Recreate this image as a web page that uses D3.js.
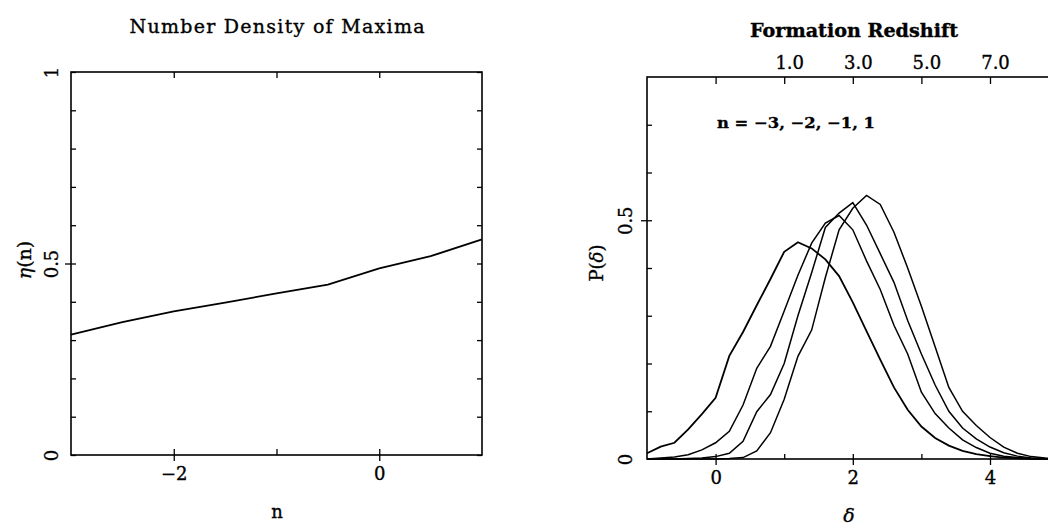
<!DOCTYPE html>
<html>
<head>
<meta charset="utf-8">
<script src="https://cdn.jsdelivr.net/npm/d3@7/dist/d3.min.js"></script>
<style>
body { margin: 0; background: #fff; }
text { font-family: "DejaVu Serif", serif; fill: #000; stroke: #000; stroke-width: 0.35; }
.tick line { stroke: #000; stroke-width: 1.3; }
</style>
</head>
<body>
<script>
// left panel: number density of maxima vs spectral index n
var nValues   = [-3, -2.5, -2, -1.5, -1, -0.5, 0, 0.5, 1];
var etaValues = [0.314, 0.347, 0.375, 0.398, 0.422, 0.445, 0.487, 0.519, 0.563];

// right panel: P(delta) for n = -3, -2, -1, 1
var deltaGrid = [-1, -0.8, -0.6, -0.4, -0.2, 0, 0.2, 0.4, 0.6, 0.8, 1, 1.2, 1.4, 1.6, 1.8, 2,
                 2.2, 2.4, 2.6, 2.8, 3, 3.2, 3.4, 3.6, 3.8, 4, 4.2, 4.4, 4.6, 4.8, 5];
var pNm3 = [0.012, 0.026, 0.034, 0.062, 0.094, 0.128, 0.216, 0.266, 0.322, 0.377, 0.434, 0.454, 0.441, 0.418, 0.383, 0.328,
            0.268, 0.208, 0.150, 0.103, 0.068, 0.044, 0.028, 0.017, 0.010, 0.006, 0.003, 0.0015, 0.0005, 0, 0];
var pNm2 = [0, 0.002, 0.004, 0.009, 0.019, 0.034, 0.058, 0.113, 0.19, 0.236, 0.31, 0.385, 0.452, 0.494, 0.510, 0.480,
            0.415, 0.355, 0.28, 0.22, 0.14, 0.095, 0.065, 0.04, 0.024, 0.012, 0.006, 0.003, 0.001, 0, 0];
var pNm1 = [0, 0, 0, 0.001, 0.002, 0.005, 0.012, 0.037, 0.099, 0.135, 0.20, 0.30, 0.39, 0.485, 0.515, 0.537,
            0.49, 0.43, 0.37, 0.29, 0.22, 0.155, 0.10, 0.065, 0.042, 0.025, 0.013, 0.006, 0.002, 0.001, 0];
var pNp1 = [0, 0, 0, 0, 0, 0, 0.001, 0.003, 0.017, 0.055, 0.125, 0.215, 0.27, 0.38, 0.48, 0.525,
            0.552, 0.533, 0.475, 0.40, 0.32, 0.235, 0.15, 0.10, 0.07, 0.045, 0.025, 0.012, 0.005, 0.002, 0];
var curves = [pNm3, pNm2, pNm1, pNp1];

// top axis of right panel: formation redshift
var zTickDelta = [1, 2, 3, 4];
var zTickLabels = ["1.0", "3.0", "5.0", "7.0"];

var svg = d3.select("body").append("svg")
    .attr("width", 1048)
    .attr("height", 528);

function minus(s) { return String(s).replace("-", "\u2212"); }

// ---------- left panel ----------
var xL = d3.scaleLinear().domain([-3, 1]).range([71, 482]);
var yL = d3.scaleLinear().domain([0, 1]).range([455, 72]);

var left = svg.append("g");

// inward minor ticks
left.append("g").attr("transform", "translate(0," + yL(0) + ")")
    .call(d3.axisBottom(xL).tickValues([-2, -1, 0]).tickSize(-6).tickFormat(""));
left.append("g").attr("transform", "translate(0," + yL(1) + ")")
    .call(d3.axisTop(xL).tickValues([-2, -1, 0]).tickSize(-6).tickFormat(""));
left.append("g").attr("transform", "translate(" + xL(-3) + ",0)")
    .call(d3.axisLeft(yL).ticks(10).tickSize(-5).tickFormat(""));
left.append("g").attr("transform", "translate(" + xL(1) + ",0)")
    .call(d3.axisRight(yL).ticks(10).tickSize(-5).tickFormat(""));

// outward major ticks with labels
var lxAxis = left.append("g").attr("transform", "translate(0," + yL(0) + ")")
    .call(d3.axisBottom(xL).tickValues([-2, 0]).tickSize(6).tickFormat(minus));
lxAxis.selectAll("text").attr("y", 12).attr("font-size", 18);

var lyAxis = left.append("g").attr("transform", "translate(" + xL(-3) + ",0)")
    .call(d3.axisLeft(yL).tickValues([0, 0.5, 1]).tickSize(0).tickFormat(d3.format("")));
lyAxis.selectAll("text")
    .attr("x", 0).attr("dy", "0.35em").attr("text-anchor", "middle")
    .attr("font-size", 18)
    .attr("transform", "translate(-19,0) rotate(-90)");
left.append("g").attr("transform", "translate(" + xL(-3) + ",0)")
    .call(d3.axisLeft(yL).tickValues([0.5]).tickSize(6).tickFormat(""));

left.selectAll(".domain").remove();

left.append("rect")
    .attr("x", xL(-3)).attr("y", yL(1))
    .attr("width", xL(1) - xL(-3)).attr("height", yL(0) - yL(1))
    .attr("fill", "none").attr("stroke", "#000").attr("stroke-width", 1.6);

var lineL = d3.line().x(function(d, i) { return xL(nValues[i]); }).y(function(d) { return yL(d); });
left.append("path").datum(etaValues)
    .attr("d", lineL).attr("fill", "none").attr("stroke", "#000").attr("stroke-width", 1.8);

left.append("text").attr("x", 277).attr("y", 33).attr("text-anchor", "middle")
    .attr("font-size", 19).attr("textLength", 295).attr("lengthAdjust", "spacing")
    .text("Number Density of Maxima");
left.append("text").attr("x", 277).attr("y", 518).attr("text-anchor", "middle")
    .attr("font-size", 18).text("n");
var etaLab = left.append("text").attr("text-anchor", "middle").attr("font-size", 19)
    .attr("transform", "translate(31,260) rotate(-90)");
etaLab.append("tspan").attr("font-style", "italic").text("\u03b7");
etaLab.append("tspan").text("(n)");

// ---------- right panel ----------
var xR = d3.scaleLinear().domain([-1, 5]).range([647, 1058.6]);
var yR = d3.scaleLinear().domain([0, 0.8]).range([459, 77]);

var right = svg.append("g");

right.append("g").attr("transform", "translate(0," + yR(0) + ")")
    .call(d3.axisBottom(xR).tickValues([0, 1, 2, 3, 4]).tickSize(-5).tickFormat(""));
right.append("g").attr("transform", "translate(0," + yR(0.8) + ")")
    .call(d3.axisTop(xR).tickValues([0, 1, 2, 3, 4]).tickSize(-7).tickFormat(""));
right.append("g").attr("transform", "translate(" + xR(-1) + ",0)")
    .call(d3.axisLeft(yR).tickValues(d3.range(1, 8).map(function(d) { return d / 10; })).tickSize(-5).tickFormat(""));

var rxAxis = right.append("g").attr("transform", "translate(0," + yR(0) + ")")
    .call(d3.axisBottom(xR).tickValues([0, 2, 4]).tickSize(6).tickFormat(d3.format("")));
rxAxis.selectAll("text").attr("y", 12).attr("font-size", 18);

var ryAxis = right.append("g").attr("transform", "translate(" + xR(-1) + ",0)")
    .call(d3.axisLeft(yR).tickValues([0, 0.5]).tickSize(0).tickFormat(d3.format("")));
ryAxis.selectAll("text")
    .attr("x", 0).attr("dy", "0.35em").attr("text-anchor", "middle")
    .attr("font-size", 18)
    .attr("transform", "translate(-21,0) rotate(-90)");
right.append("g").attr("transform", "translate(" + xR(-1) + ",0)")
    .call(d3.axisLeft(yR).tickValues([0.5]).tickSize(6).tickFormat(""));

var zAxis = right.append("g").attr("transform", "translate(0," + yR(0.8) + ")")
    .call(d3.axisTop(xR).tickValues(zTickDelta).tickSize(0).tickPadding(8)
        .tickFormat(function(d, i) { return zTickLabels[i]; }));
zAxis.selectAll("text").attr("font-size", 18).attr("dx", 5);

right.selectAll(".domain").remove();

right.append("rect")
    .attr("x", xR(-1)).attr("y", yR(0.8))
    .attr("width", xR(5) - xR(-1)).attr("height", yR(0) - yR(0.8))
    .attr("fill", "none").attr("stroke", "#000").attr("stroke-width", 1.6);

var lineR = d3.line().x(function(d, i) { return xR(deltaGrid[i]); }).y(function(d) { return yR(d); });
right.selectAll(".curve").data(curves).enter().append("path")
    .attr("class", "curve")
    .attr("d", lineR).attr("fill", "none").attr("stroke", "#000")
    .attr("stroke-width", function(d, i) { return i === 0 ? 1.8 : 1.5; });

right.append("text").attr("x", 854).attr("y", 37).attr("text-anchor", "middle")
    .attr("font-size", 18).attr("font-weight", "bold")
    .attr("textLength", 208).attr("lengthAdjust", "spacingAndGlyphs")
    .text("Formation Redshift");
right.append("text").attr("x", 717).attr("y", 128)
    .attr("font-size", 15).attr("font-weight", "bold")
    .attr("textLength", 158).attr("lengthAdjust", "spacingAndGlyphs")
    .text("n = \u22123, \u22122, \u22121, 1");
right.append("text").attr("x", 849).attr("y", 522).attr("text-anchor", "middle")
    .attr("font-size", 19).attr("font-style", "italic").text("\u03b4");
var pLab = right.append("text").attr("text-anchor", "middle").attr("font-size", 18)
    .attr("transform", "translate(603,263) rotate(-90)");
pLab.append("tspan").text("P(");
pLab.append("tspan").attr("font-style", "italic").text("\u03b4");
pLab.append("tspan").text(")");
</script>
</body>
</html>
